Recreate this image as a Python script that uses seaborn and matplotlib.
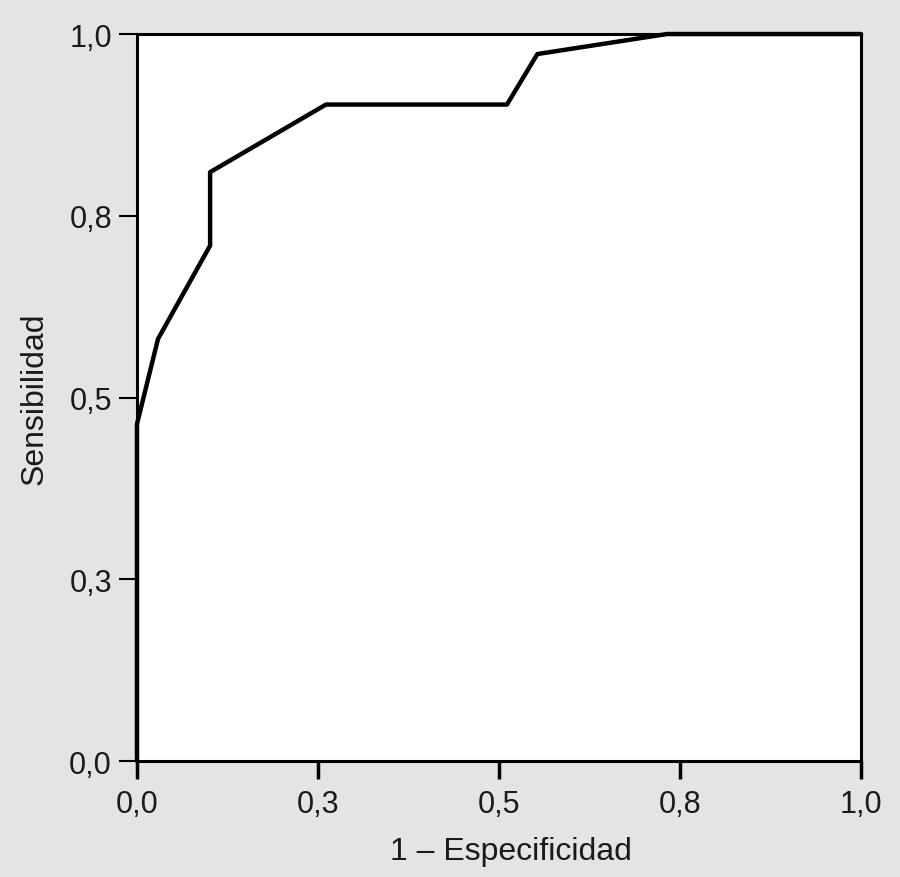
import matplotlib
matplotlib.use("Agg")
import matplotlib.pyplot as plt
import seaborn as sns
import pandas as pd

fpr = [0.0, 0.0, 0.029, 0.101, 0.101, 0.261, 0.511, 0.553, 0.732, 1.0]
tpr = [0.0, 0.4635, 0.5805, 0.709, 0.810, 0.903, 0.903, 0.9725, 1.0, 1.0]
tick_pos = [0.0, 0.25, 0.5, 0.75, 1.0]
tick_labels = ["0,0", "0,3", "0,5", "0,8", "1,0"]
x_label = "1 – Especificidad"
y_label = "Sensibilidad"

sns.set_style("white")
plt.rcParams['font.family'] = ['Liberation Sans', 'DejaVu Sans']

df = pd.DataFrame({"fpr": fpr, "tpr": tpr})

fig = plt.figure(figsize=(9, 8.78), dpi=100, facecolor="#e4e4e4")
ax = fig.add_axes([0.1522, 0.1321, 0.9567 - 0.1522, 0.9601 - 0.1321])
ax.set_facecolor("white")

sns.lineplot(data=df, x="fpr", y="tpr", sort=False, estimator=None,
             color="black", linewidth=3.2, ax=ax, clip_on=False)

ax.set_xlim(0, 1)
ax.set_ylim(0, 1)
ax.set_xticks(tick_pos)
ax.set_xticklabels(tick_labels)
ax.set_yticks(tick_pos)
ax.set_yticklabels(tick_labels)
for s in ax.spines.values():
    s.set_visible(True)
    s.set_color("black")
    s.set_linewidth(2.2)
ax.tick_params(axis="both", which="major", bottom=True, left=True,
               direction="out", length=13, width=1.5,
               color="black", labelsize=22, labelcolor="#1a1a1a", pad=5)
ax.tick_params(axis="x", width=2.5, pad=7)
ax.set_xlabel(x_label, fontsize=23, color="#1a1a1a")
ax.xaxis.set_label_coords(0.5166, -0.1238)
ax.xaxis.label.set_va("center")
ax.set_ylabel(y_label, fontsize=23, color="#1a1a1a", labelpad=14)

fig.savefig("out.png", dpi=100, facecolor=fig.get_facecolor())
